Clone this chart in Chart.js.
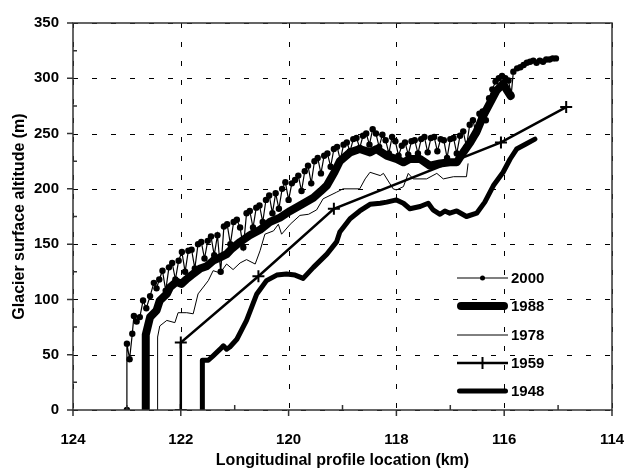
<!DOCTYPE html>
<html>
<head>
<meta charset="utf-8">
<script src="https://cdn.jsdelivr.net/npm/chart.js@4"></script>
<style>
  html, body { margin: 0; padding: 0; background: #fff; }
  #wrap { width: 628px; height: 474px; }
</style>
</head>
<body>
<div id="wrap"><canvas id="profileChart" width="628" height="474"></canvas></div>
<script>
// tick positions
const xMajor = [114, 116, 118, 120, 122, 124];
const xMinor = [115, 117, 119, 121, 123];
const yMajor = [0, 50, 100, 150, 200, 250, 300, 350];
const yMinor = [25, 75, 125, 175, 225, 275, 325];

// 2000 survey
const x2000 = [123.0, 123.0, 122.95, 122.9, 122.87, 122.82, 122.76, 122.7, 122.64, 122.57, 122.5, 122.45, 122.4, 122.34, 122.28,
  122.22, 122.16, 122.1, 122.04, 121.98, 121.92, 121.86, 121.8, 121.74, 121.68, 121.62, 121.56, 121.5, 121.44, 121.38,
  121.32, 121.26, 121.2, 121.14, 121.08, 121.02, 120.96, 120.9, 120.84, 120.78, 120.72, 120.66, 120.6, 120.54, 120.48,
  120.42, 120.36, 120.3, 120.24, 120.18, 120.12, 120.06, 120.0, 119.94, 119.88, 119.82, 119.76, 119.7, 119.64, 119.58,
  119.52, 119.46, 119.4, 119.34, 119.28, 119.22, 119.16, 119.1, 119.04, 118.98, 118.92, 118.86, 118.8, 118.74, 118.68,
  118.62, 118.56, 118.5, 118.44, 118.38, 118.32, 118.26, 118.2, 118.14, 118.08, 118.02, 117.96, 117.9, 117.84, 117.78,
  117.72, 117.66, 117.6, 117.54, 117.48, 117.42, 117.36, 117.3, 117.24, 117.18, 117.12, 117.06, 117.0, 116.94, 116.88,
  116.82, 116.76, 116.7, 116.64, 116.58, 116.52, 116.46, 116.4, 116.34, 116.28, 116.22, 116.16, 116.1, 116.04, 115.98,
  115.92, 115.87, 115.83, 115.76, 115.7, 115.64, 115.58, 115.52, 115.46, 115.4, 115.34, 115.28, 115.22, 115.16, 115.1, 115.04];
const y2000 = [0, 60, 46, 69, 85, 80, 84, 99, 92, 103, 115, 110, 118, 126, 108,
  129, 133, 118, 135, 143, 125, 144, 145, 128, 150, 152, 137, 153, 157, 140,
  158, 125, 166, 168, 150, 170, 172, 165, 147, 178, 180, 165, 183, 185, 170,
  190, 194, 178, 196, 182, 200, 206, 190, 205, 208, 212, 198, 216, 221, 205,
  225, 228, 214, 230, 232, 220, 236, 238, 226, 240, 242, 234, 245, 246, 237,
  248, 250, 240, 254, 250, 238, 249, 244, 232, 247, 243, 230, 239, 242, 231,
  243, 244, 232, 245, 247, 233, 246, 247, 234, 245, 244, 228, 245, 246, 232,
  248, 252, 238, 258, 262, 250, 268, 270, 262, 282, 290, 297, 300, 302, 300,
  298, 285, 306, 309, 310, 312, 314, 315, 316, 314, 316, 315, 317, 317, 318, 318];

// 1988 survey
const x1988 = [122.65, 122.65, 122.57, 122.45, 122.39, 122.26, 122.2, 122.08, 121.99, 121.9, 121.8, 121.64, 121.52, 121.4,
  121.27, 121.15, 121.05, 120.9, 120.72, 120.53, 120.35, 120.16, 119.97, 119.79, 119.54, 119.4, 119.29, 119.15, 119.05,
  118.86, 118.68, 118.49, 118.37, 118.18, 118.0, 117.87, 117.75, 117.56, 117.38, 117.19, 117.01, 116.88, 116.76, 116.63,
  116.51, 116.39, 116.26, 116.14, 116.02, 115.96, 115.88];
const y1988 = [0, 68, 84, 90, 99, 105, 111, 116, 114, 118, 122, 128, 130, 135,
  138, 141, 146, 152, 158, 163, 170, 174, 180, 185, 192, 198, 203, 215, 225,
  233, 236, 233, 236, 230, 227, 224, 227, 227, 221, 223, 224, 224, 233, 242,
  252, 266, 278, 289, 295, 290, 284];

// 1978 survey
const x1978 = [122.43, 122.43, 122.39, 122.26, 122.11, 122.05, 121.89, 121.77, 121.68, 121.49, 121.4, 121.27, 121.15, 121.03,
  120.9, 120.78, 120.62, 120.53, 120.44, 120.28, 120.19, 120.13, 119.97, 119.79, 119.63, 119.48, 119.36, 119.11, 118.99,
  118.68, 118.58, 118.49, 118.3, 118.24, 118.06, 118.0, 117.87, 117.78, 117.69, 117.44, 117.25, 117.13, 116.94, 116.7, 116.67];
const y1978 = [0, 66, 76, 81, 79, 88, 88, 87, 105, 117, 126, 124, 132, 127,
  133, 136, 132, 144, 159, 162, 168, 159, 168, 176, 177, 181, 191, 197, 200,
  200, 209, 215, 212, 214, 200, 199, 202, 214, 209, 209, 214, 209, 211, 211, 223];

// 1959 survey
const x1959 = [122.0, 122.0, 120.56, 119.16, 116.06, 114.85];
const y1959 = [0, 61, 121, 182, 242, 274];

// 1948 survey
const x1948 = [121.6, 121.6, 121.49, 121.4, 121.27, 121.21, 121.15, 121.09, 120.96, 120.78, 120.59, 120.41, 120.22, 120.04,
  119.88, 119.73, 119.54, 119.29, 119.11, 119.05, 118.86, 118.68, 118.49, 118.3, 118.18, 118.0, 117.87, 117.75, 117.56,
  117.41, 117.32, 117.19, 117.1, 117.01, 116.88, 116.7, 116.51, 116.36, 116.2, 116.02, 115.89, 115.77, 115.58, 115.43];
const y1948 = [0, 45, 45, 49, 55, 58, 55, 57, 64, 81, 105, 117, 122, 123,
  122, 119, 129, 141, 152, 161, 173, 180, 186, 187, 188, 190, 187, 182, 184,
  187, 181, 177, 180, 178, 180, 175, 178, 188, 203, 215, 227, 236, 241, 245];

const pairs = (xs, ys) => xs.map((x, i) => ({ x: x, y: ys[i] }));
const FONT = '"Liberation Sans", Arial, sans-serif';

// dashed grid, drawn under the lines
const gridPlugin = {
  id: 'gridPlugin',
  beforeDatasetsDraw(chart) {
    const { ctx, chartArea: a, scales } = chart;
    ctx.save();
    ctx.strokeStyle = '#000';
    ctx.lineWidth = 1;
    ctx.setLineDash([5, 14]);
    ctx.beginPath();
    xMajor.forEach(v => {
      const p = Math.round(scales.x.getPixelForValue(v)) + 0.5;
      ctx.moveTo(p, a.top); ctx.lineTo(p, a.bottom);
    });
    yMajor.forEach(v => {
      const p = Math.round(scales.y.getPixelForValue(v)) + 0.5;
      ctx.moveTo(a.left, p); ctx.lineTo(a.right, p);
    });
    ctx.stroke();
    ctx.restore();
  }
};

// axis frame, tick marks and the in-plot legend
const framePlugin = {
  id: 'framePlugin',
  afterDraw(chart) {
    const { ctx, chartArea: a, scales } = chart;
    const sx = scales.x, sy = scales.y;
    ctx.save();
    ctx.strokeStyle = '#333';
    ctx.lineWidth = 1.5;
    ctx.strokeRect(a.left, a.top, a.right - a.left, a.bottom - a.top);
    ctx.beginPath();
    xMajor.forEach(v => { const p = sx.getPixelForValue(v); ctx.moveTo(p, a.bottom); ctx.lineTo(p, a.bottom + 6); });
    xMinor.forEach(v => { const p = sx.getPixelForValue(v); ctx.moveTo(p, a.bottom); ctx.lineTo(p, a.bottom - 5); });
    yMajor.forEach(v => { const p = sy.getPixelForValue(v); ctx.moveTo(a.left, p); ctx.lineTo(a.left - 6, p); });
    yMinor.forEach(v => { const p = sy.getPixelForValue(v); ctx.moveTo(a.left, p); ctx.lineTo(a.left + 4, p); });
    ctx.stroke();

    // legend
    const x0 = 457, x1 = 508;
    const rowY = [278, 306, 335, 363, 391];
    ctx.fillStyle = '#000';
    ctx.strokeStyle = '#000';
    ctx.font = 'bold 15px ' + FONT;
    ctx.textBaseline = 'middle';
    chart.data.datasets.forEach((ds, i) => {
      const y = rowY[i];
      const round = ds.borderWidth > 3;
      const inset = round ? ds.borderWidth / 2 : 0;
      ctx.lineWidth = ds.borderWidth;
      ctx.lineCap = round ? 'round' : 'butt';
      ctx.beginPath(); ctx.moveTo(x0 + inset, y); ctx.lineTo(x1 - inset, y); ctx.stroke();
      const mx = (x0 + x1) / 2;
      if (ds.pointStyle === 'circle' && ds.pointRadius > 0) {
        ctx.beginPath(); ctx.arc(mx, y, 2.5, 0, Math.PI * 2); ctx.fill();
      } else if (ds.pointStyle === 'cross') {
        ctx.lineWidth = 2;
        ctx.beginPath(); ctx.moveTo(mx, y - 6); ctx.lineTo(mx, y + 6); ctx.stroke();
      }
      ctx.fillText(ds.label, 511, y + 1);
    });
    ctx.restore();
  }
};

const ctx = document.getElementById('profileChart').getContext('2d');
new Chart(ctx, {
  type: 'line',
  data: {
    datasets: [
      { label: '2000', data: pairs(x2000, y2000), borderColor: '#000', backgroundColor: '#000', borderWidth: 1.2,
        pointStyle: 'circle', pointRadius: 3.2, pointBorderWidth: 0, pointBackgroundColor: '#000' },
      { label: '1988', data: pairs(x1988, y1988), borderColor: '#000', borderWidth: 8, pointRadius: 0,
        borderJoinStyle: 'round', borderCapStyle: 'round' },
      { label: '1978', data: pairs(x1978, y1978), borderColor: '#000', borderWidth: 1, pointRadius: 0 },
      { label: '1959', data: pairs(x1959, y1959), borderColor: '#000', borderWidth: 2.5,
        pointStyle: 'cross', pointRadius: 6, pointBorderWidth: 2, pointBorderColor: '#000' },
      { label: '1948', data: pairs(x1948, y1948), borderColor: '#000', borderWidth: 5, pointRadius: 0,
        borderJoinStyle: 'round', borderCapStyle: 'round' }
    ]
  },
  options: {
    responsive: false,
    animation: false,
    layout: { padding: { top: 21, right: 16, left: 0, bottom: 0 } },
    plugins: { legend: { display: false }, tooltip: { enabled: false } },
    elements: { line: { tension: 0 } },
    scales: {
      x: {
        type: 'linear', reverse: true, min: 114, max: 124,
        afterFit: s => { s.height = 64; },
        afterBuildTicks: s => { s.ticks = xMajor.map(v => ({ value: v })); },
        ticks: { color: '#000', font: { family: FONT, size: 15, weight: 'bold' }, padding: 21, maxRotation: 0 },
        grid: { display: false, drawTicks: false },
        border: { display: false },
        title: { display: true, text: 'Longitudinal profile location (km)', color: '#000',
          font: { family: FONT, size: 16, weight: 'bold' }, padding: { top: 0, bottom: 4 } }
      },
      y: {
        type: 'linear', min: 0, max: 350,
        afterFit: s => { s.width = 73; },
        afterBuildTicks: s => { s.ticks = yMajor.map(v => ({ value: v })); },
        ticks: { color: '#000', font: { family: FONT, size: 15, weight: 'bold' }, padding: 14 },
        grid: { display: false, drawTicks: false },
        border: { display: false },
        title: { display: true, text: 'Glacier surface altitude (m)', color: '#000',
          font: { family: FONT, size: 16, weight: 'bold' }, padding: { top: 10, bottom: 0 } }
      }
    }
  },
  plugins: [gridPlugin, framePlugin]
});
</script>
</body>
</html>
